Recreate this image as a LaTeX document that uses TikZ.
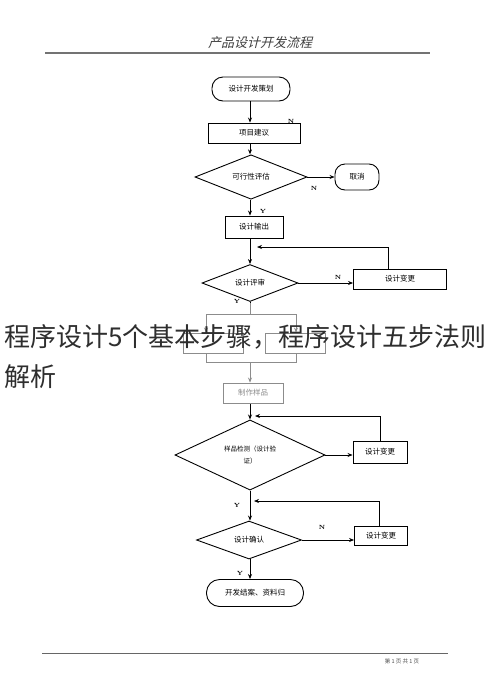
\documentclass[tikz,border=0pt]{standalone}
\usepackage{fontspec}
\usetikzlibrary{shapes.geometric,arrows.meta}
\newfontfamily\cjk{Noto Sans CJK SC}
\newfontfamily\cjkslant[FakeSlant=0.25]{Noto Sans CJK SC}
\begin{document}
\begin{tikzpicture}[x=1pt,y=-1pt,
  font=\cjk\fontsize{7.5}{9}\selectfont,
  line width=0.7pt,
  proc/.style={draw, rectangle, inner sep=0pt, line width=0.9pt},
  term/.style={draw, rectangle, rounded corners=11pt, inner sep=0pt, line width=0.9pt},
  dec/.style={draw, diamond, inner sep=0pt, line width=0.9pt},
  arr/.style={-{Stealth[length=5pt,width=4pt]}},
  lab/.style={font=\rmfamily\bfseries\fontsize{6}{6}\selectfont, inner sep=0pt},
  faded/.style={draw=black!45, text=black!45}
]
\useasboundingbox (0,0) rectangle (490,697);
\fill[white] (0,0) rectangle (490,697);

% header
\node[font=\cjkslant\fontsize{13}{14}\selectfont, text=black!75] (title) at (260,43) {产品设计开发流程};
\coordinate (hl) at (45,53);
\coordinate (hr) at (430,53);
\draw[line width=1.6pt, black!55] (hl) -- (hr);

% nodes
\node[term, minimum width=78pt, minimum height=24pt] (start) at (251,89) {设计开发策划};
\node[proc, minimum width=92pt, minimum height=20pt] (jy) at (254,133) {项目建议};
\node[dec, minimum width=112pt, minimum height=31pt] (kx) at (251,177) {可行性评估};
\node[term, rounded corners=10pt, minimum width=44pt, minimum height=26pt] (qx) at (357,177) {取消};
\node[proc, minimum width=58pt, minimum height=22pt] (sc) at (254,227) {设计输出};
\node[dec, minimum width=96pt, minimum height=32pt] (ps) at (250,283) {设计评审};
\node[proc, minimum width=93pt, minimum height=20pt] (bg1) at (400,279) {设计变更};

\node[proc, minimum width=60pt, minimum height=20pt] (lb) at (213,343) {};
\node[proc, minimum width=60pt, minimum height=20pt] (rb) at (295,343) {};
\node[proc, minimum width=60pt, minimum height=20pt] (zp) at (253,393) {制作样品};

\node[dec, minimum width=150pt, minimum height=46pt, align=center, font=\cjk\fontsize{6.5}{12}\selectfont] (jc) at (250,455) {样品检测（设计验\\证）};
\node[proc, minimum width=54pt, minimum height=22pt] (bg2) at (380,452) {设计变更};
\node[dec, minimum width=105pt, minimum height=38pt] (qr) at (249,540) {设计确认};
\node[proc, minimum width=53pt, minimum height=19pt] (bg3) at (381,536) {设计变更};
\node[term, rounded corners=13pt, minimum width=97pt, minimum height=27pt] (end) at (255,593) {开发结案、资料归};

% labels
\node[lab] (n1) at (291,121) {N};
\node[lab] (n2) at (314,188) {N};
\node[lab] (y1) at (263,211) {Y};
\node[lab] (n3) at (338,277) {N};
\node[lab] (y2) at (237,301) {Y};
\node[lab] (y3) at (237,505) {Y};
\node[lab] (n4) at (322,527) {N};
\node[lab] (y4) at (240,573) {Y};

% coordinates
\coordinate (m) at (250,0);
\coordinate (fb1) at (257,247);
\coordinate (fbx1) at (388,247);
\coordinate (fk) at (250,314);
\coordinate (fkl) at (206,314);
\coordinate (fkr) at (296,314);
\coordinate (jn) at (250,362);
\coordinate (jnl) at (206,362);
\coordinate (jnr) at (296,362);
\coordinate (fb2) at (255,416);
\coordinate (fbx2) at (380,416);
\coordinate (fb3) at (254,501);
\coordinate (fbx3) at (379,501);

% connectors
\draw[arr] (start.south -| m) -- (jy.north -| m);
\draw[arr] (jy.south -| m) -- (kx.north -| m);
\draw[arr] (kx.east) -- (qx.west);
\draw[arr] (kx.south -| m) -- (sc.north -| m);
\draw[arr] (sc.south -| m) -- (ps.north -| m);
\draw[arr] (ps.east) -- (ps.east -| bg1.west);
\draw[arr] (bg1.north -| fbx1) -- (fbx1) -- (fb1);

\draw (ps.south -| m) -- (fk);
\draw (fkl) -- (fkr);
\draw[arr] (fkl) -- (lb.north -| fkl);
\draw[arr] (fkr) -- (rb.north -| fkr);
\draw (lb.south -| jnl) -- (jnl) -- (jnr) -- (rb.south -| jnr);
\draw[arr] (jn) -- (zp.north -| m);

\draw[arr] (zp.south -| m) -- (jc.north -| m);
\draw[arr] (jc.east) -- (jc.east -| bg2.west);
\draw[arr] (bg2.north -| fbx2) -- (fbx2) -- (fb2);
\draw[arr] (jc.south -| m) -- (qr.north -| m);
\draw[arr] (qr.east) -- (qr.east -| bg3.west);
\draw[arr] (bg3.north -| fbx3) -- (fbx3) -- (fb3);
\draw[arr] (qr.south -| m) -- (end.north -| m);

% footer
\coordinate (fl) at (42,653);
\coordinate (fr) at (448,653);
\draw[line width=0.8pt, black!60] (fl) -- (fr);
\node[font=\cjk\fontsize{5.5}{6}\selectfont, text=black!70] (pg) at (402,661) {第 1 页 共 1 页};

% overlay band and caption
\fill[white, opacity=0.55] (0,303) rectangle (490,404);
\node[anchor=west, inner sep=0pt, align=left, text=black!82,
      font=\cjk\fontsize{26}{40}\selectfont] (cap) at (4,357)
      {程序设计5个基本步骤，程序设计五步法则\\解析};
\end{tikzpicture}
\end{document}
